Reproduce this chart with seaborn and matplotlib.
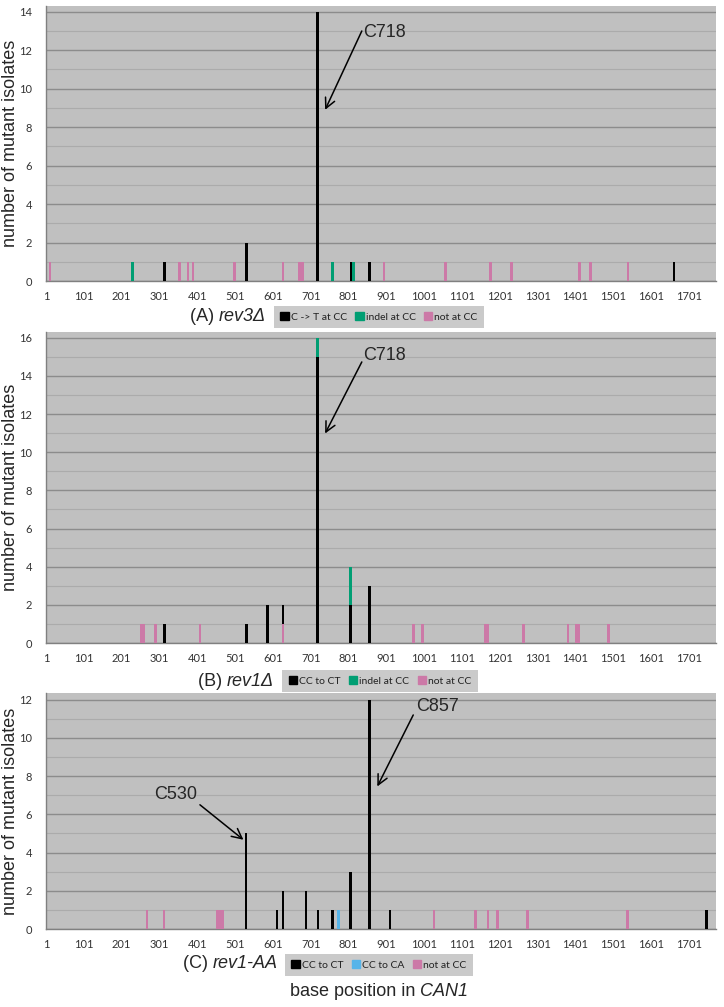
import numpy as np
import pandas as pd
import matplotlib
matplotlib.use("Agg")
import matplotlib.pyplot as plt
import matplotlib.patches as mpatches
import seaborn as sns

# positions along CAN1 and number of mutant isolates
# (A) rev3 delta
a_ct_pos = [315, 531, 718, 808, 857, 1661]
a_ct_n = [1, 2, 14, 1, 1, 1]
a_indel_pos = [230, 758, 814]
a_indel_n = [1, 1, 1]
a_not_pos = [12, 354, 376, 390, 499, 628, 670, 675, 680, 895, 1057, 1176, 1231, 1411, 1441, 1540]
a_not_n = [1] * len(a_not_pos)

# (B) rev1 delta
b_ct_pos = [314, 531, 586, 628, 718, 806, 857]
b_ct_n = [1, 1, 2, 1, 15, 2, 3]
b_indel_pos = [718, 806]
b_indel_n = [1, 2]
b_not_pos = [252, 258, 291, 408, 628, 973, 997, 1163, 1168, 1264, 1381, 1402, 1409, 1488]
b_not_n = [1] * len(b_not_pos)

# (C) rev1-AA
c_ct_pos = [530, 612, 628, 688, 720, 758, 806, 857, 911, 1747]
c_ct_n = [5, 1, 2, 2, 1, 1, 3, 12, 1, 1]
c_ca_pos = [775]
c_ca_n = [1]
c_not_pos = [268, 313, 455, 461, 467, 1027, 1136, 1170, 1195, 1274, 1539]
c_not_n = [1] * len(c_not_pos)

x_ticks = list(range(1, 1702, 100))

BLACK = "#000000"
GREEN = "#009e73"
PINK = "#cc79a7"
BLUE = "#56b4e9"
BG = "#c0c0c0"

sns.set_theme(style="white")
plt.rcParams["font.family"] = ["Liberation Sans", "DejaVu Sans"]

W, H = 724, 1007
fig = plt.figure(figsize=(W / 100, H / 100), dpi=100)


def px_axes(left, top, right, bottom):
    return fig.add_axes([left / W, 1 - bottom / H, (right - left) / W, (bottom - top) / H])


def draw_panel(ax, series, ymax, ytop):
    bottoms = {}
    for pos, n, col in series:
        b = [bottoms.get(p, 0) for p in pos]
        ax.bar(pos, n, width=7, bottom=b, color=col, linewidth=0, zorder=3)
        for p, v in zip(pos, n):
            bottoms[p] = bottoms.get(p, 0) + v
    ax.set_facecolor(BG)
    ax.set_xlim(1, 1772.5)
    ax.set_ylim(0, ytop)
    ax.set_yticks(np.arange(0, ymax + 1, 2))
    ax.set_yticks(np.arange(1, ymax, 2), minor=True)
    ax.set_xticks(x_ticks)
    ax.grid(axis="y", which="major", color="#8c8c8c", lw=1.0, zorder=1)
    ax.grid(axis="y", which="minor", color="#ababab", lw=0.8, zorder=1)
    ax.grid(axis="x", visible=False)
    for s in ["top", "right"]:
        ax.spines[s].set_visible(False)
    for s in ["left", "bottom"]:
        ax.spines[s].set_color("#808080")
        ax.spines[s].set_linewidth(1.0)
    ax.tick_params(axis="x", which="major", direction="out", length=3, color="#808080",
                   labelsize=8, labelcolor="#333333", pad=4)
    ax.tick_params(axis="y", which="major", direction="out", length=3, color="#808080",
                   labelsize=8, labelcolor="#333333", pad=7)
    ax.tick_params(axis="y", which="minor", length=0)
    for lab in ax.get_xticklabels() + ax.get_yticklabels():
        lab.set_fontfamily(["Lato", "DejaVu Sans"])


def arrow(ax, start, end):
    ax.annotate("", xy=end, xytext=start,
                arrowprops=dict(arrowstyle="->,head_length=0.6,head_width=0.3", lw=1.1, color="black",
                                shrinkA=0, shrinkB=0), zorder=5)


def panel_label(prefix, name, x, y):
    t = fig.text(x / W, 1 - y / H, prefix, fontsize=13, ha="left", va="center")
    r = fig.canvas.get_renderer()
    bb = t.get_window_extent(r)
    fig.text(bb.x1 / W, 1 - y / H, name, fontsize=13, ha="left", va="center", style="italic")


def legend(labels, colors, cx, cy):
    handles = [mpatches.Patch(color=c, label=l) for l, c in zip(labels, colors)]
    leg = fig.legend(handles=handles, loc="center", bbox_to_anchor=(cx / W, 1 - cy / H), ncol=3,
                     fontsize=7.5, frameon=True, fancybox=False, handlelength=0.8, handleheight=0.8,
                     handletextpad=0.2, columnspacing=0.8, borderpad=0.6)
    leg.get_frame().set_facecolor("#bdbdbd")
    leg.get_frame().set_edgecolor("none")
    for t in leg.get_texts():
        t.set_fontfamily(["Lato", "DejaVu Sans"])
        t.set_color("#222222")


# panel A
ax1 = px_axes(46, 6, 716, 281)
draw_panel(ax1, [(a_not_pos, a_not_n, PINK), (a_ct_pos, a_ct_n, BLACK), (a_indel_pos, a_indel_n, GREEN)], 14, 14.3)
ax1.text(839, 12.9, "C718", fontsize=13, ha="left", va="center")
arrow(ax1, (836, 13.0), (739, 8.9))

# panel B
ax2 = px_axes(46, 332, 716, 643)
draw_panel(ax2, [(b_not_pos, b_not_n, PINK), (b_ct_pos, b_ct_n, BLACK), (b_indel_pos, b_indel_n, GREEN)], 16, 16.3)
ax2.text(839, 15.08, "C718", fontsize=13, ha="left", va="center")
arrow(ax2, (836, 14.73), (739, 10.98))

# panel C
ax3 = px_axes(46, 693, 716, 929)
draw_panel(ax3, [(c_not_pos, c_not_n, PINK), (c_ct_pos, c_ct_n, BLACK), (c_ca_pos, c_ca_n, BLUE)], 12, 12.35)
ax3.text(343, 7.02, "C530", fontsize=13, ha="center", va="center")
arrow(ax3, (408, 6.5), (523, 4.67))
ax3.text(1035, 11.63, "C857", fontsize=13, ha="center", va="center")
arrow(ax3, (972, 11.2), (877, 7.46))

# y labels
for top, bot in [(6, 281), (332, 643), (693, 929)]:
    fig.text(11 / W, 1 - (top + bot) / 2 / H, "number of mutant isolates", fontsize=13,
             rotation=90, ha="center", va="center")

panel_label("(A) ", "rev3Δ", 190, 316)
panel_label("(B) ", "rev1Δ", 198, 681)
panel_label("(C) ", "rev1-AA", 183, 964)

legend(["C -> T at CC", "indel at CC", "not at CC"], [BLACK, GREEN, PINK], 379, 317)
legend(["CC to CT", "indel at CC", "not at CC"], [BLACK, GREEN, PINK], 380, 681)
legend(["CC to CT", "CC to CA", "not at CC"], [BLACK, BLUE, PINK], 379, 965)

t = fig.text(290 / W, 1 - 991 / H, "base position in ", fontsize=13, ha="left", va="center")
bb = t.get_window_extent(fig.canvas.get_renderer())
fig.text(bb.x1 / W, 1 - 991 / H, "CAN1", fontsize=13, ha="left", va="center", style="italic")

fig.savefig("out.png", dpi=100)
